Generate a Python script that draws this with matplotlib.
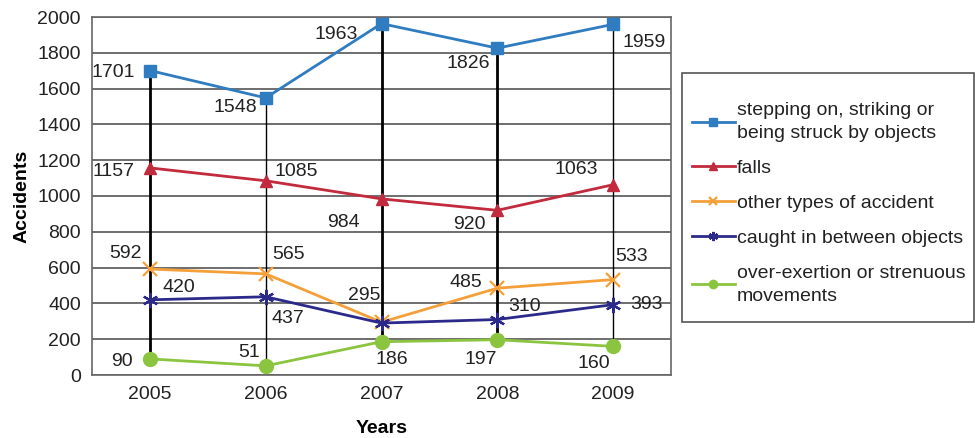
import matplotlib
matplotlib.use("Agg")
import matplotlib.pyplot as plt
from matplotlib.patches import Rectangle
import numpy as np

plt.rcParams["font.family"] = ["Liberation Sans", "DejaVu Sans"]

years = [2005, 2006, 2007, 2008, 2009]
struck = [1701, 1548, 1963, 1826, 1959]
falls = [1157, 1085, 984, 920, 1063]
other = [592, 565, 295, 485, 533]
caught = [420, 437, 290, 310, 393]
exertion = [90, 51, 186, 197, 160]

series_labels = [
    "stepping on, striking or\nbeing struck by objects",
    "falls",
    "other types of accident",
    "caught in between objects",
    "over-exertion or strenuous\nmovements",
]
y_ticks = list(range(0, 2001, 200))

# label offsets in pixels (dx, dy, ha); None = no label shown
offsets = {
    "struck": [(-15, -2, "right"), (-9, -10, "right"), (-24, -11, "right"),
               (-7, -15, "right"), (9, -18, "left")],
    "falls": [(-15, -4, "right"), (9, 9, "left"), (-22, -24, "right"),
              (-12, -14, "right"), (-15, 15, "right")],
    "other": [(-8, 16, "right"), (7, 19, "left"), (-1, 27, "right"),
              (-15, 6, "right"), (2, 23, "left")],
    "caught": [(13, 12, "left"), (6, -22, "left"), None,
               (11, 13, "left"), (17, 0, "left")],
    "exertion": [(-17, -3, "right"), (-6, 13, "right"), (10, -18, "center"),
                 (0, -20, "right"), (-3, -17, "right")],
}

W, H = 975, 438
fig = plt.figure(figsize=(W / 100, H / 100), dpi=100)
ax = fig.add_axes([92 / W, 1 - 375 / H, (671 - 92) / W, (375 - 17) / H])

# high-low lines
tops = np.max([struck, falls, other, caught, exertion], axis=0)
lows = np.min([struck, falls, other, caught, exertion], axis=0)
widths = [2.0, 1.0, 2.0, 2.0, 1.0]
for x, lo, hi, w in zip(years, lows, tops, widths):
    ax.plot([x, x], [lo, hi], color="black", lw=w, zorder=2)

styles = [
    ("struck", struck, "#2f7cc0", "s", 9, 0),
    ("falls", falls, "#c22a3d", "^", 9, 0),
    ("other", other, "#f4a03a", "x", 10, 1.6),
    ("caught", caught, "#2b2a8a", (6, 2, 0), 11, 1.6),
    ("exertion", exertion, "#8bc540", "o", 10, 0),
]
handles = []
for (key, vals, col, mk, ms, mew), lab in zip(styles, series_labels):
    kw = dict(markeredgewidth=mew) if mew else dict(markeredgecolor=col)
    h, = ax.plot(years, vals, color=col, lw=2.0, marker=mk, markersize=ms,
                 zorder=3, label=lab, **kw)
    handles.append(h)
    for x, v, off in zip(years, vals, offsets[key]):
        if off is None:
            continue
        dx, dy, ha = off
        ax.annotate(str(v), (x, v), xytext=(dx * 0.72, dy * 0.72),
                    textcoords="offset points", ha=ha, va="center",
                    fontsize=14, color="#222222", zorder=5)

ax.set_xlim(2004.5, 2009.5)
ax.set_ylim(0, 2000)
ax.set_xticks(years)
ax.set_yticks(y_ticks)
ax.tick_params(length=0, labelsize=14, colors="#222222", pad=8)
ax.yaxis.grid(True, color="#555555", lw=1.2, zorder=1)
ax.set_axisbelow(True)
for s in ax.spines.values():
    s.set_color("#666666")
    s.set_linewidth(1.2)
ax.set_xlabel("Years", fontsize=14, fontweight="bold", labelpad=12.5)
ax.set_ylabel("Accidents", fontsize=14, fontweight="bold", labelpad=5)

# legend box drawn separately so the padding can be set freely
fig.patches.append(Rectangle((682 / W, 1 - 322 / H), (974 - 682) / W,
                             (322 - 73) / H, transform=fig.transFigure,
                             facecolor="white", edgecolor="#555555", lw=1.2,
                             zorder=0))
leg = fig.legend(handles=handles, loc="upper left",
                 bbox_to_anchor=(692 / W, 1 - 102 / H),
                 fontsize=14, frameon=False, handlelength=2.2,
                 handletextpad=0.1, labelspacing=0.9, markerscale=0.6,
                 borderpad=0, borderaxespad=0)
for t in leg.get_texts():
    t.set_linespacing(1.45)
    t.set_color("#222222")

fig.savefig("out.png", dpi=100)
